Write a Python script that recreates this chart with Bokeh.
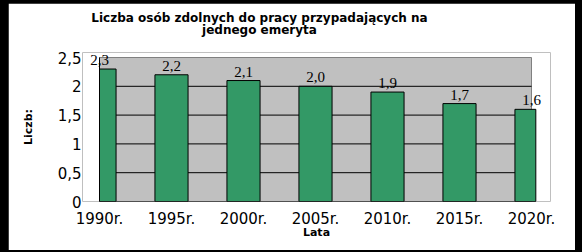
from bokeh.plotting import figure
from bokeh.models import ColumnDataSource, LabelSet, FixedTicker, LinearAxis
from bokeh.layouts import column
from bokeh.embed import file_html
from bokeh.resources import INLINE

years = ["1990r.", "1995r.", "2000r.", "2005r.", "2010r.", "2015r.", "2020r."]
values = [2.3, 2.2, 2.1, 2.0, 1.9, 1.7, 1.6]
value_labels = ["2,3", "2,2", "2,1", "2,0", "1,9", "1,7", "1,6"]
y_ticks = [0, 0.5, 1, 1.5, 2, 2.5]
y_tick_labels = ["0", "0,5", "1", "1,5", "2", "2,5"]
title_lines = ["Liczba osób zdolnych do pracy przypadających na", "jednego emeryta"]
x_title = "Lata"
y_title = "Liczb:"

FONT = "DejaVu Sans"
xs = list(range(len(years)))
n = len(years) - 1
ymax = y_ticks[-1]

# ---- layout geometry (pixels, white area; page offset 8,3) ----
W, H = 567, 247
PX_X, PX_Y = 72.0, 57.6            # pixels per data unit
X0, Y0 = 91, 198                   # pixel of x=0 / y=0
FL, FR, FT, FB = 74, 542, 49, 198  # frame edges
TITLE_CX = 251                     # title centre

p = figure(width=W, height=H, output_backend="svg", toolbar_location=None,
           x_range=((FL - X0) / PX_X, (FR - X0) / PX_X),
           y_range=(0, (Y0 - FT) / PX_Y),
           min_border_left=FL, min_border_right=W - FR, min_border_top=FT, min_border_bottom=H - FB,
           border_fill_color="white", background_fill_color="white")
p.outline_line_color = None
p.grid.visible = False
p.title.visible = False

# plot area
p.quad(left=[0], right=[n], bottom=[0], top=[ymax], fill_color="#C0C0C0",
       line_color="#808080", line_width=1)
grid_y = y_ticks[1:-1]
p.segment(x0=[0] * len(grid_y), x1=[n] * len(grid_y), y0=grid_y, y1=grid_y,
          line_color="black", line_width=1)

half = 0.23
edge = n + 0.06
src = ColumnDataSource(dict(x=xs, top=values, lab=value_labels,
                            left=[max(x - half, 0) for x in xs],
                            right=[min(x + half, edge) for x in xs]))
p.quad(left="left", right="right", top="top", bottom=0, source=src, fill_color="#339966",
       line_color="black", line_width=1)

# axis lines
p.segment(x0=[0, 0], x1=[0, edge], y0=[0, 0], y1=[ymax, 0], line_color="black", line_width=1)

p.add_layout(LabelSet(x="x", y="top", text="lab", source=src, text_align="center",
                      text_baseline="bottom", y_offset=4, text_font=FONT, text_font_size="15px",
                      text_color="black"))

# axes
p.xaxis.ticker = FixedTicker(ticks=xs)
p.xaxis.major_label_overrides = {i: y for i, y in enumerate(years)}
p.yaxis.ticker = FixedTicker(ticks=y_ticks)
p.yaxis.major_label_overrides = {tk: l for tk, l in zip(y_ticks, y_tick_labels)}
for ax in (p.xaxis, p.yaxis):
    ax.axis_line_color = None
    ax.major_tick_in = 0
    ax.major_tick_out = 0
    ax.minor_tick_line_color = None
    ax.major_label_text_font = FONT
    ax.major_label_text_font_size = "15px"
    ax.major_label_text_color = "black"
    ax.axis_label_text_font = FONT
    ax.axis_label_text_font_style = "bold"
    ax.axis_label_text_font_size = "11px"
    ax.axis_label_text_color = "black"
p.yaxis.major_label_standoff = 1
p.xaxis.major_label_standoff = 8
p.xaxis.axis_label = x_title
p.xaxis.axis_label_standoff = -5
p.yaxis.axis_label = y_title
p.yaxis.axis_label_standoff = 20

# chart title carried by an axis above the plot
tx = (TITLE_CX - X0) / PX_X
top_axis = LinearAxis(ticker=FixedTicker(ticks=[tx]),
                      major_label_overrides={tx: "\n".join(title_lines)},
                      axis_line_color=None, major_tick_in=0, major_tick_out=0,
                      minor_tick_line_color=None, major_label_standoff=16,
                      major_label_text_font=FONT, major_label_text_font_style="bold",
                      major_label_text_font_size="12px", major_label_text_color="black",
                      major_label_text_line_height=0.85)
p.add_layout(top_axis, "above")

layout = column(p, styles={"background-color": "black", "padding": "3px 7px 2px 8px"})
open("out.html", "w").write(file_html(layout, INLINE))
